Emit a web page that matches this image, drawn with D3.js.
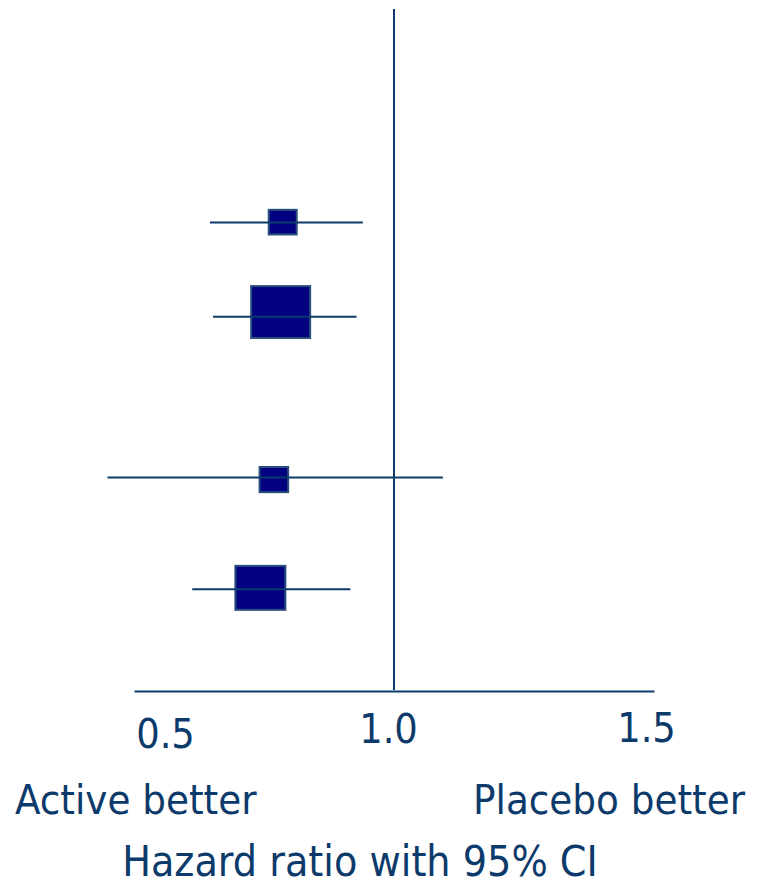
<!DOCTYPE html>
<html>
<head>
<meta charset="utf-8">
<script src="https://cdn.jsdelivr.net/npm/d3@7"></script>
<style>
  body { margin: 0; background: #fff; }
  svg text { font-family: "DejaVu Sans Condensed", "DejaVu Sans", sans-serif; font-stretch: condensed; fill: #0c3a6b; }
</style>
</head>
<body>
<div id="chart"></div>
<script>
// Forest plot: hazard ratio with 95% CI

// one entry per study row
var rowPos = [3.13, 4.45, 6.91, 8.50];      // vertical slot of the box
var ciPos = [3.135, 4.52, 6.88, 8.52];      // vertical slot of the CI line
var hazard = [0.786, 0.782, 0.769, 0.743]; // point estimate
var ciLow = [0.646, 0.652, 0.449, 0.612];
var ciHigh = [0.940, 0.928, 1.094, 0.916];
var weight = [28, 59, 28.6, 50];           // box size

var tickValues = [0.5, 1.0, 1.5];
var tickLabels = ["0.5", "1.0", "1.5"];

var svgWidth = 757;
var svgHeight = 878;

var svg = d3.select("#chart")
    .append("svg")
    .attr("width", svgWidth)
    .attr("height", svgHeight);

var lineColor = "#0c3a6b";

var x = d3.scaleLinear()
    .domain([0.5, 1.5])
    .range([134, 654]);

var y = d3.scaleLinear()
    .domain([0, 10])
    .range([9, 690]);

var boxSize = d3.scaleLinear()
    .domain([0, 60])
    .range([0, 60]);

var rows = rowPos.map(function(p, i) {
    return { pos: p, ci: ciPos[i], hr: hazard[i], lo: ciLow[i], hi: ciHigh[i], w: weight[i] };
});

// line of no effect
svg.append("line")
    .attr("x1", x(1)).attr("x2", x(1))
    .attr("y1", y(0)).attr("y2", y(10))
    .attr("stroke", lineColor)
    .attr("stroke-width", 2);

// x axis
var xAxis = svg.append("g")
    .attr("transform", `translate(0, ${y(10) + 1})`)
    .call(d3.axisBottom(x)
        .tickValues(tickValues)
        .tickFormat(function(d, i) { return tickLabels[i]; })
        .tickSize(0)
        .tickPadding(0));

xAxis.select(".domain")
    .attr("stroke", lineColor)
    .attr("stroke-width", 2);

// the labels sit a little off their ticks in the original
var labelShift = [[31, 57], [-6, 52], [-8, 51]];
xAxis.selectAll(".tick text")
    .attr("font-size", 41)
    .attr("font-family", null)
    .attr("dy", null)
    .attr("x", function(d, i) { return labelShift[i][0]; })
    .attr("y", function(d, i) { return labelShift[i][1]; });

// boxes
svg.selectAll("rect.box")
    .data(rows)
    .enter()
    .append("rect")
    .attr("class", "box")
    .attr("x", d => x(d.hr) - boxSize(d.w) / 2)
    .attr("y", d => y(d.pos) - boxSize(d.w) * 0.88 / 2)
    .attr("width", d => boxSize(d.w))
    .attr("height", d => boxSize(d.w) * 0.88)
    .attr("fill", "#000080")
    .attr("stroke", "#2a4f7c")
    .attr("stroke-width", 2);

// confidence intervals
svg.selectAll("line.ci")
    .data(rows)
    .enter()
    .append("line")
    .attr("class", "ci")
    .attr("x1", d => x(d.lo))
    .attr("x2", d => x(d.hi))
    .attr("y1", d => y(d.ci))
    .attr("y2", d => y(d.ci))
    .attr("stroke", lineColor)
    .attr("stroke-width", 2);

// direction and axis titles
svg.append("text")
    .attr("x", 15).attr("y", 814)
    .attr("font-size", 41.5)
    .text("Active better");

svg.append("text")
    .attr("x", 745).attr("y", 814)
    .attr("font-size", 41.5)
    .attr("text-anchor", "end")
    .text("Placebo better");

svg.append("text")
    .attr("x", 360).attr("y", 876)
    .attr("font-size", 42.5)
    .attr("text-anchor", "middle")
    .text("Hazard ratio with 95% CI");
</script>
</body>
</html>
